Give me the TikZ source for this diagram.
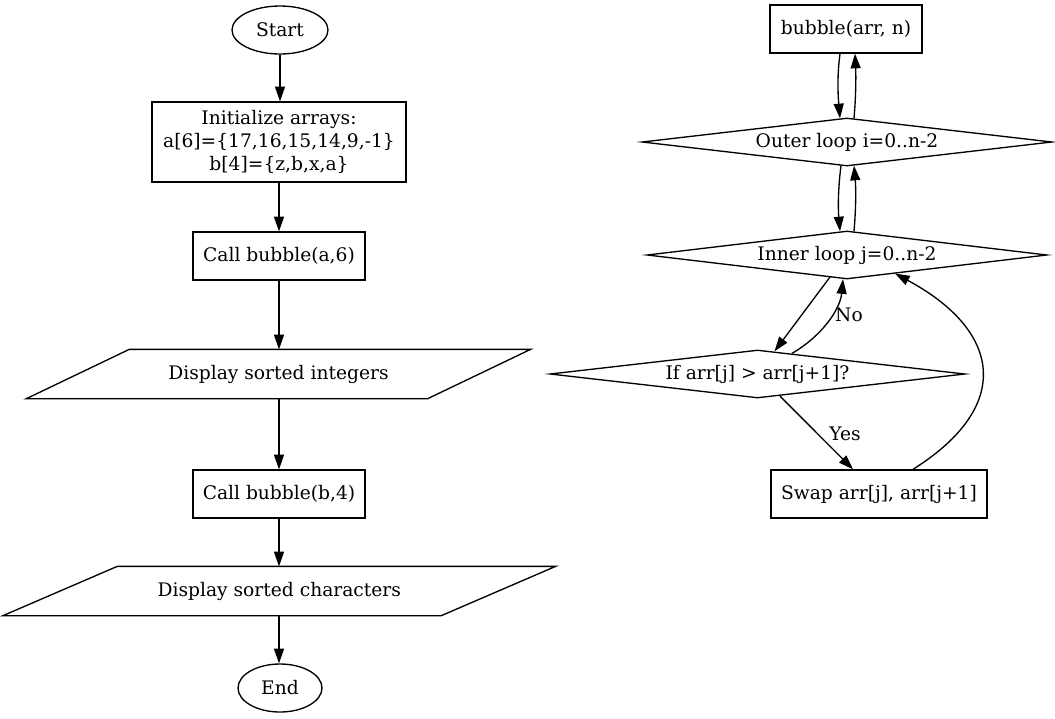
\documentclass[tikz,border=0pt]{standalone}
\usepackage{fontspec}
\setmainfont{DejaVu Serif}
\usetikzlibrary{calc,shapes.geometric,arrows.meta}
\begin{document}
\begin{tikzpicture}[x=0.75pt,y=-0.75pt,
  every node/.style={font=\fontsize{14}{17.25}\selectfont, line width=1pt},
  box/.style={draw, rectangle, inner sep=0pt, align=center, minimum height=36pt},
  term/.style={draw, ellipse, inner sep=0pt, minimum height=36pt},
  dec/.style={draw, diamond, inner sep=0pt, aspect=8, minimum height=36pt},
  io/.style={rectangle, inner sep=0pt, minimum height=36pt},
  arr/.style={line width=1pt, -{Triangle[length=11pt,width=7.5pt]}},
  shp/.style={line width=1pt, line join=miter},
  lbl/.style={inner sep=0pt}]
\useasboundingbox (0,0) rectangle (1055,718);

% left column
\node[term, minimum width=72pt] (start) at (280,30) {Start};
\node[box, minimum width=190.5pt, minimum height=60pt] (init) at (279,142)
  {Initialize arrays:\\a[6]=\{17,16,15,14,9,-1\}\\b[4]=\{z,b,x,a\}};
\node[box, minimum width=129pt] (calla) at (279,256) {Call bubble(a,6)};
\node[io, minimum width=300pt] (dispint) at (278.5,374) {Display sorted integers};
\draw[shp] ($(dispint.north west)+(51.5,0)$) -- ($(dispint.north east)+(51.5,0)$)
  -- ($(dispint.south east)+(-51.5,0)$) -- ($(dispint.south west)+(-51.5,0)$) -- cycle;
\node[box, minimum width=129pt] (callb) at (279,494) {Call bubble(b,4)};
\node[io, minimum width=327.75pt] (dispchar) at (279.3,591) {Display sorted characters};
\draw[shp] ($(dispchar.north west)+(57.2,0)$) -- ($(dispchar.north east)+(57.2,0)$)
  -- ($(dispchar.south east)+(-57.2,0)$) -- ($(dispchar.south west)+(-57.2,0)$) -- cycle;
\node[term, minimum width=63pt] (end) at (280,688) {End};

\draw[arr] (start.south) -- (start.south |- init.north);
\draw[arr] (init.south) -- (calla.north);
\draw[arr] (calla.south) -- (calla.south |- dispint.north);
\draw[arr] (calla.south |- dispint.south) -- (callb.north);
\draw[arr] (callb.south) -- (callb.south |- dispchar.north);
\draw[arr] (callb.south |- dispchar.south) -- (callb.south |- end.north);

% right column
\node[box, minimum width=114pt] (bub) at (846,29) {bubble(arr, n)};
\node[dec, minimum width=307.5pt] (outer) at (847,142) {Outer loop i=0..n-2};
\node[dec, minimum width=300pt] (inner) at (847,255) {Inner loop j=0..n-2};
\node[dec, minimum width=311.25pt] (ifn) at (757.5,374) {If arr[j] > arr[j+1]?};
\node[box, minimum width=162pt] (swap) at (879,494) {Swap arr[j], arr[j+1]};

\draw[arr] ($(bub.south)+(-6,0)$) .. controls ($(bub.south)+(-9,22)$) and ($(outer.north)+(-9,-22)$) .. ($(outer.north)+(-7,1)$);
\draw[arr] ($(outer.north)+(7,1)$) .. controls ($(outer.north)+(9,-22)$) and ($(bub.south)+(10,22)$) .. ($(bub.south)+(9,0)$);
\draw[arr] ($(outer.south)+(-6,-1)$) .. controls ($(outer.south)+(-9,22)$) and ($(inner.north)+(-9,-22)$) .. ($(inner.north)+(-7,1)$);
\draw[arr] ($(inner.north)+(7,1)$) .. controls ($(inner.north)+(9,-22)$) and ($(outer.south)+(9,22)$) .. ($(outer.south)+(7,-1)$);

\draw[arr] ($(inner.center)+(-17,22)$) -- ($(ifn.north)+(17,2)$);
\draw[arr] ($(ifn.north)+(34.5,4)$) .. controls ($(ifn.north)+(62.5,-12)$) and ($(inner.south)+(-7,31)$) .. ($(inner.south)+(-4,-0.5)$);
\node[lbl] (no) at (849,315) {No};
\draw[arr] ($(ifn.south)+(22.5,-2.6)$) -- ($(swap.north)+(-26,0)$);
\node[lbl] (yes) at (845,434) {Yes};
\draw[arr] ($(swap.north)+(34,0)$) .. controls (1015,405) and (1000,330) .. ($(inner.center)+(48,18.5)$);
\end{tikzpicture}
\end{document}
